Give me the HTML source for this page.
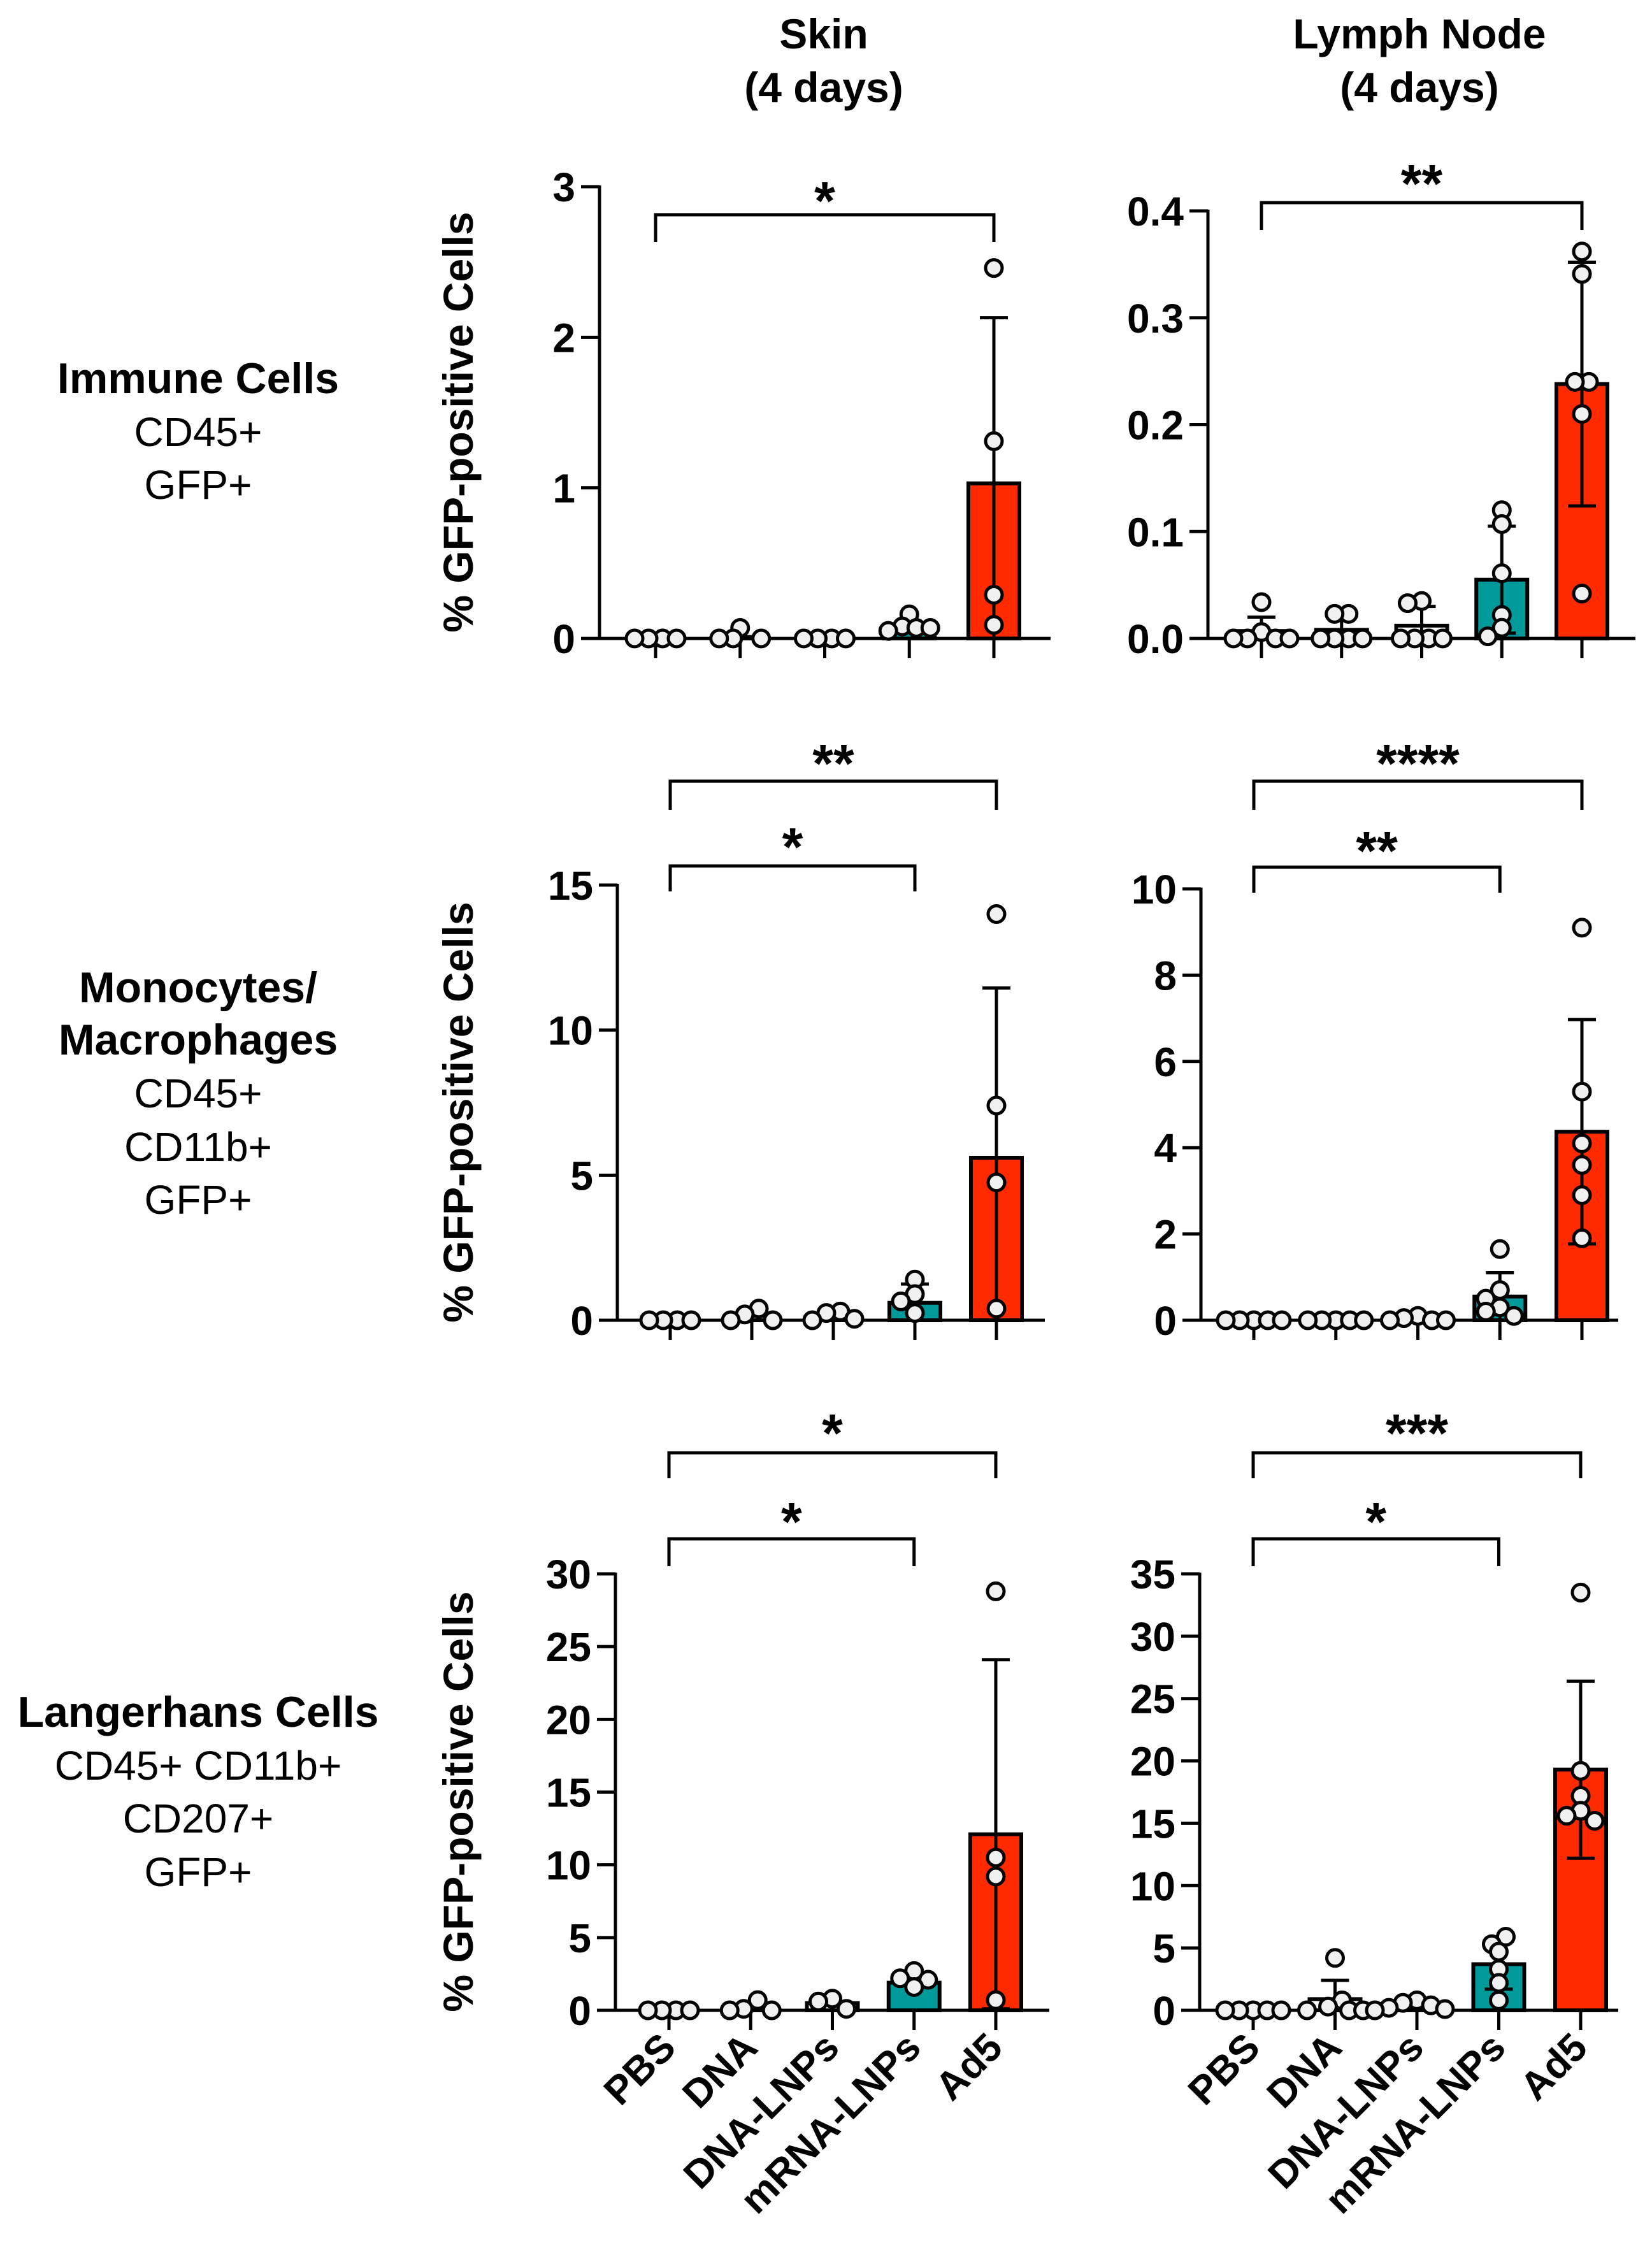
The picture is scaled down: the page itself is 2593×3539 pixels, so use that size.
<!DOCTYPE html>
<html><head><meta charset="utf-8">
<style>
html,body{margin:0;padding:0;background:#fff;}
svg{display:block;font-family:"Liberation Sans",Arial,sans-serif;}
</style></head>
<body>
<svg id="fig" xmlns="http://www.w3.org/2000/svg" width="2593" height="3539" viewBox="0 0 2593 3539">
  <rect x="0" y="0" width="2593" height="3539" fill="#fff"/>
  <g font-weight="bold" font-size="66" text-anchor="middle">
    <text x="1293" y="76">Skin</text>
    <text x="1293" y="160">(4 days)</text>
  </g>
  <g font-weight="bold" font-size="66" text-anchor="middle">
    <text x="2228" y="76">Lymph Node</text>
    <text x="2228" y="160">(4 days)</text>
  </g>
  <g font-size="64" text-anchor="middle">
    <text x="311" y="617" font-weight="bold" font-size="68">Immune Cells</text>
    <text x="311" y="700">CD45+</text>
    <text x="311" y="783">GFP+</text>
  </g>
  <g font-size="64" text-anchor="middle">
    <text x="311" y="1573" font-weight="bold" font-size="68">Monocytes/</text>
    <text x="311" y="1655" font-weight="bold" font-size="68">Macrophages</text>
    <text x="311" y="1738">CD45+</text>
    <text x="311" y="1822">CD11b+</text>
    <text x="311" y="1905">GFP+</text>
  </g>
  <g font-size="64" text-anchor="middle">
    <text x="311" y="2710" font-weight="bold" font-size="68">Langerhans Cells</text>
    <text x="311" y="2793">CD45+ CD11b+</text>
    <text x="311" y="2876">CD207+</text>
    <text x="311" y="2960">GFP+</text>
  </g>
</svg>
<script>
const categories = ['PBS','DNA','DNA-LNPs','mRNA-LNPs','Ad5'];

// Skin immune
const skinImmunePoints = [[0,0,0,0],[0.07,0,0,0],[0,0,0,0],[0.16,0.08,0.07,0.07,0.05],[2.46,1.31,0.29,0.09]];
const skinImmuneMeans = [0,0.01,0,0.09,1.03];
const skinImmuneSD = [0,0,0,0,1.1];
const skinImmuneTicks = [0,1,2,3];
// Lymph node immune
const lnImmunePoints = [[0.034,0.006,0,0,0,0],[0.023,0.023,0,0,0,0],[0.035,0.033,0,0,0,0],[0.12,0.107,0.061,0.022,0.01,0.002],[0.362,0.341,0.24,0.24,0.21,0.042]];
const lnImmuneMeans = [0.007,0.008,0.012,0.055,0.238];
const lnImmuneSD = [0.013,0.012,0.018,0.05,0.114];
const lnImmuneTicks = [0,0.1,0.2,0.3,0.4];
// Skin monocytes
const skinMonoPoints = [[0,0,0,0],[0.4,0.2,0,0],[0.3,0.25,0.05,0],[1.4,0.9,0.65,0.25],[14,7.4,4.75,0.4]];
const skinMonoMeans = [0,0.15,0.15,0.6,5.6];
const skinMonoSD = [0,0,0,0.65,5.85];
const skinMonoTicks = [0,5,10,15];
// Lymph node monocytes
const lnMonoPoints = [[0,0,0,0,0],[0,0,0,0,0],[0.1,0.05,0,0,0],[1.65,0.7,0.5,0.3,0.2,0.1],[9.1,5.3,4.1,3.6,2.9,1.9]];
const lnMonoMeans = [0,0,0.03,0.55,4.37];
const lnMonoSD = [0,0,0,0.55,2.6];
const lnMonoTicks = [0,2,4,6,8,10];
// Skin Langerhans
const skinLCPoints = [[0,0,0,0],[0.7,0.1,0,0],[0.8,0.6,0.1],[2.7,2.2,2.1,1.6],[28.8,10.5,9.2,0.7]];
const skinLCMeans = [0,0.2,0.5,1.9,12.1];
const skinLCSD = [0,0,0,0,12.0];
const skinLCTicks = [0,5,10,15,20,25,30];
// Lymph node Langerhans
const lnLCPoints = [[0,0,0,0,0],[4.2,0.8,0.3,0,0,0],[0.8,0.6,0.4,0.2,0.1,0],[5.9,5.3,4.7,3.3,2.2,0.8],[33.5,19.2,17.2,16,15.6,15.2]];
const lnLCMeans = [0,0.9,0.35,3.7,19.3];
const lnLCSD = [0,1.5,0,2.0,7.1];
const lnLCTicks = [0,5,10,15,20,25,30,35];

const fills = ['#ffffff','#ffffff','#ffffff','#009a9a','#ff2a00'];
const NS = 'http://www.w3.org/2000/svg';
const svg = document.getElementById('fig');

function mk(tag, attrs, parent){
  const e = document.createElementNS(NS, tag);
  for (const k in attrs) e.setAttribute(k, attrs[k]);
  (parent||svg).appendChild(e);
  return e;
}

const panels = [
  {id:'skin-immune', pts:skinImmunePoints, means:skinImmuneMeans, sd:skinImmuneSD, ticks:skinImmuneTicks, dec:0,
   axisX:941, x0:1029, step:132.75, zeroY:1002, topY:293, max:3, xEnd:1649, title:true,
   brackets:[{y:337, drop:43, to:4, label:'*', sy:302}], xlabels:false},
  {id:'ln-immune', pts:lnImmunePoints, means:lnImmuneMeans, sd:lnImmuneSD, ticks:lnImmuneTicks, dec:1,
   axisX:1896, x0:1980, step:125.75, zeroY:1002, topY:331, max:0.4, xEnd:2567, title:false,
   brackets:[{y:318, drop:43, to:4, label:'**', sy:275}], xlabels:false},
  {id:'skin-monocytes', pts:skinMonoPoints, means:skinMonoMeans, sd:skinMonoSD, ticks:skinMonoTicks, dec:0,
   axisX:969, x0:1052, step:128, zeroY:2072, topY:1389, max:15, xEnd:1640, title:true,
   brackets:[{y:1226, drop:45, to:4, label:'**', sy:1185},{y:1359, drop:40, to:3, label:'*', sy:1316}], xlabels:false},
  {id:'ln-monocytes', pts:lnMonoPoints, means:lnMonoMeans, sd:lnMonoSD, ticks:lnMonoTicks, dec:0,
   axisX:1885, x0:1968, step:128.75, zeroY:2072, topY:1395, max:10, xEnd:2540, title:false,
   brackets:[{y:1226, drop:45, to:4, label:'****', sy:1185},{y:1361, drop:40, to:3, label:'**', sy:1322}], xlabels:false},
  {id:'skin-langerhans', pts:skinLCPoints, means:skinLCMeans, sd:skinLCSD, ticks:skinLCTicks, dec:0,
   axisX:966, x0:1050, step:128.25, zeroY:3155, topY:2470, max:30, xEnd:1647, title:true,
   brackets:[{y:2280, drop:40, to:4, label:'*', sy:2236},{y:2415, drop:43, to:3, label:'*', sy:2375}], xlabels:true},
  {id:'ln-langerhans', pts:lnLCPoints, means:lnLCMeans, sd:lnLCSD, ticks:lnLCTicks, dec:0,
   axisX:1883, x0:1967, step:128.5, zeroY:3155, topY:2470, max:35, xEnd:2540, title:false,
   brackets:[{y:2280, drop:40, to:4, label:'***', sy:2236},{y:2415, drop:43, to:3, label:'*', sy:2375}], xlabels:true}
];

panels.forEach(p => {
  const g = mk('g', {});
  
  
  const yS = v => p.zeroY - (v / p.max) * (p.zeroY - p.topY);
  const xS = i => p.x0 + i * p.step;

  const ya = mk('line', {x1:p.axisX, y1:p.topY-2, x2:p.axisX, y2:p.zeroY, stroke:'#000', 'stroke-width':5}, g);
  
  
  p.ticks.forEach(t => {
    const ty = yS(t);
    const tl = mk('line', {x1:p.axisX-29, y1:ty, x2:p.axisX, y2:ty, stroke:'#000', 'stroke-width':5}, g);
    
    
    const tx = mk('text', {x:p.axisX-38, y:ty+23, 'text-anchor':'end', 'font-size':64, 'font-weight':'bold'}, g);
    tx.textContent = t.toFixed(p.dec);
    
    
  });
  const xa = mk('line', {x1:p.axisX-29, y1:p.zeroY, x2:p.xEnd, y2:p.zeroY, stroke:'#000', 'stroke-width':5}, g);
  
  
  categories.forEach((c, i) => {
    const tk = mk('line', {x1:xS(i), y1:p.zeroY, x2:xS(i), y2:p.zeroY+31, stroke:'#000', 'stroke-width':5}, g);
    
    
    if (p.xlabels) {
      const lx = xS(i) + 14, ly = p.zeroY + 62;
      const t = mk('text', {x:lx, y:ly, 'text-anchor':'end', 'font-size':62, 'font-weight':'bold', transform:'rotate(-45 '+lx+' '+ly+')'}, g);
      t.textContent = c;
      
      
    }
  });
  if (p.title) {
    const cy = (p.zeroY + p.topY) / 2 + 15;
    const tt = mk('text', {x:742, y:cy, 'text-anchor':'middle', 'font-size':66, 'font-weight':'bold', transform:'rotate(-90 742 '+cy+')'}, g);
    tt.textContent = '% GFP-positive Cells';
    
    
  }
  p.means.forEach((m, i) => {
    const top = yS(m);
    const h = Math.max(p.zeroY - top, 0.5);
    const b = mk('rect', {x:xS(i)-40, y:p.zeroY-h, width:80, height:h, fill:fills[i], stroke: m > 0 ? '#000' : 'none', 'stroke-width':6}, g);
    
    
  });
  p.sd.forEach((s, i) => {
    if (s <= 0) return;
    const m = p.means[i];
    const hi = yS(m + s), lo = yS(Math.max(m - s, 0));
    const eg = mk('g', {stroke:'#000', 'stroke-width':5}, g);
    
    
    mk('line', {x1:xS(i), y1:hi, x2:xS(i), y2:lo}, eg);
    mk('line', {x1:xS(i)-22, y1:hi, x2:xS(i)+22, y2:hi}, eg);
    if (m - s > 0) mk('line', {x1:xS(i)-22, y1:lo, x2:xS(i)+22, y2:lo}, eg);
  });
  const r = 13, d = 22;
  p.pts.forEach((arr, i) => {
    const placed = [];
    arr.forEach(v => {
      const py = yS(v);
      const offs = [0,-d,d,-2*d,2*d,-3*d,3*d];
      let ox = 0;
      for (const o of offs) {
        if (placed.every(q => Math.hypot(q[0]-o, q[1]-py) >= 20)) { ox = o; break; }
      }
      placed.push([ox, py]);
    });
    const rows = {};
    placed.forEach((q, k) => { const key = Math.round(q[1] / 17); (rows[key] = rows[key] || []).push(k); });
    Object.values(rows).forEach(ks => {
      if (ks.length < 2) return;
      const xs = ks.map(k => placed[k][0]);
      const mid = (Math.min(...xs) + Math.max(...xs)) / 2;
      ks.forEach(k => { placed[k][0] -= mid; });
    });
    placed.forEach(q => {
      const c = mk('circle', {cx:xS(i)+q[0], cy:q[1], r:r, fill:'#f0f0f0', stroke:'#000', 'stroke-width':5}, g);
      
      
    });
  });
  p.brackets.forEach(br => {
    const x1 = xS(0), x2 = xS(br.to);
    const bp = mk('path', {d:'M'+x1+' '+(br.y+br.drop)+' V'+br.y+' H'+x2+' V'+(br.y+br.drop), fill:'none', stroke:'#000', 'stroke-width':5}, g);
    
    
    const st = mk('text', {x:(x1+x2)/2, y:br.sy+42, 'text-anchor':'middle', 'font-size':84, 'font-weight':'bold'}, g);
    st.textContent = br.label;
    
    
  });
});
</script>
</body></html>
